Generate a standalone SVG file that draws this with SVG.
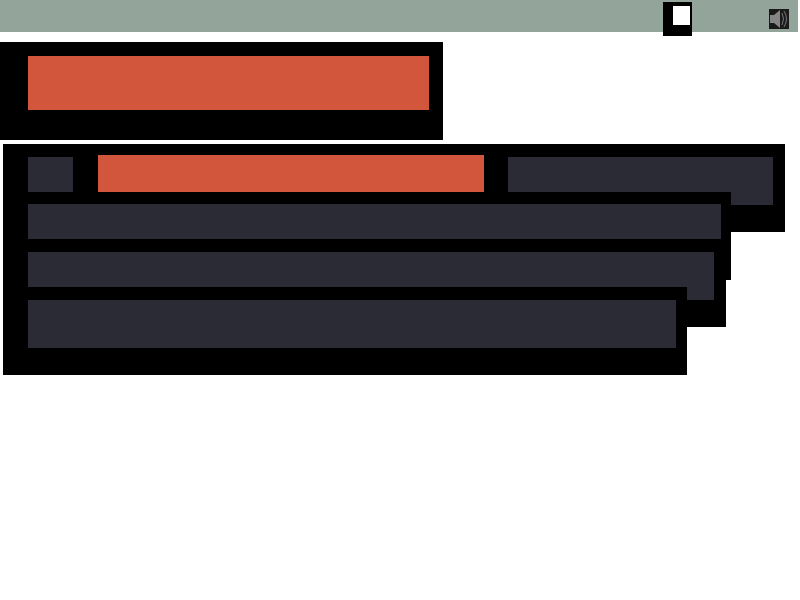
<svg xmlns="http://www.w3.org/2000/svg" width="800" height="600" viewBox="0 0 800 600">
<style>
.k{fill:#000}.r{fill:#d1563b}.d{fill:#2a2b35}.s{fill:none;stroke:#777;stroke-width:1}
</style>
<rect width="800" height="600" fill="#fff"/>
<rect x="0" y="0" width="798" height="32" fill="#93a49b"/>
<rect class="k" x="663" y="2" width="29" height="34"/>
<rect x="673" y="6" width="17" height="19" fill="#fff"/>
<rect x="769" y="9" width="20" height="20" fill="#1a1a1a"/>
<path d="M770 15h4l6-5v18l-6-5h-4z" fill="#858585"/>
<path class="s" d="M782 13q3 6 0 12M784 11q5 8 0 16"/>
<rect class="k" x="0" y="42" width="443" height="98"/>
<rect class="r" x="28" y="56" width="401" height="54"/>
<path class="k" d="M3 144H785V232H731V280H726V327H687V375H3z"/>
<rect class="d" x="28" y="157" width="45" height="35"/>
<rect class="r" x="98" y="155" width="386" height="37"/>
<path class="d" d="M508 157H773V205H731V192H508z"/>
<rect class="d" x="28" y="204" width="693" height="35"/>
<path class="d" d="M28 252H714V300H687V287H28z"/>
<rect class="d" x="28" y="300" width="648" height="48"/>
</svg>
